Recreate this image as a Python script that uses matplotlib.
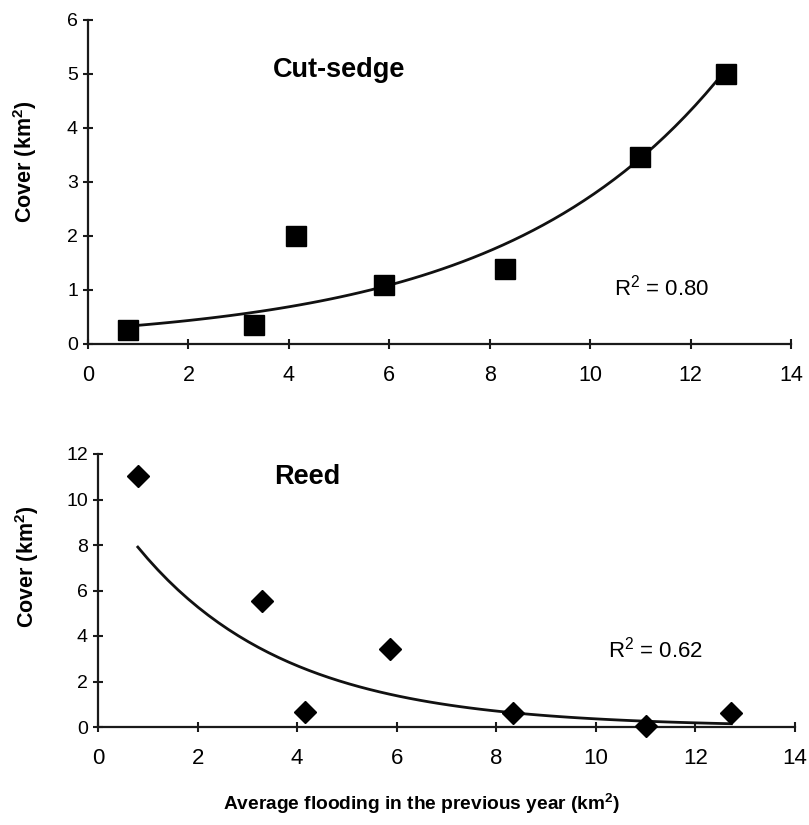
import numpy as np
import matplotlib.pyplot as plt

plt.rcParams['font.family'] = ['Liberation Sans', 'DejaVu Sans']
plt.rcParams['mathtext.default'] = 'regular'

# average flooding in the previous year (km2)
flooding = [0.8, 3.3, 4.15, 5.9, 8.3, 11.0, 12.7]
sedge_cover = [0.26, 0.35, 2.0, 1.09, 1.38, 3.47, 5.0]
reed_flooding = [0.8, 3.3, 4.15, 5.87, 8.33, 11.0, 12.72]
reed_cover = [11.05, 5.52, 0.68, 3.45, 0.63, 0.04, 0.63]
sedge_r2 = 0.80
reed_r2 = 0.62

W, H = 809, 825


def exp_trend(x, y):
    # exponential trendline y = a*exp(b*x), fitted in log space
    b, ln_a = np.polyfit(x, np.log(y), 1)
    xs = np.linspace(min(x), max(x), 60)
    return xs, np.exp(ln_a) * np.exp(b * xs)


def px_axes(fig, x0, x1, y_top, y_bot):
    # axes placed by pixel edges
    return fig.add_axes([x0 / W, 1 - y_bot / H, (x1 - x0) / W, (y_bot - y_top) / H])


def style_axes(ax, ymax, ystep, xsize, ysize):
    ax.patch.set_alpha(0)
    ax.spines['top'].set_visible(False)
    ax.spines['right'].set_visible(False)
    for side in ('left', 'bottom'):
        ax.spines[side].set_linewidth(1.6)
        ax.spines[side].set_color('#1a1a1a')
    ax.set_xlim(0, 14)
    ax.set_ylim(0, ymax)
    ax.set_xticks(range(0, 15, 2))
    ax.set_yticks(range(0, ymax + 1, ystep))
    ax.tick_params(direction='inout', length=7.5, width=1.5, color='#1a1a1a')
    ax.tick_params(axis='x', pad=11.5, labelsize=xsize)
    ax.tick_params(axis='y', pad=3.5, labelsize=ysize)


def ylabel(fig, xpx, ypx):
    fig.text(xpx / W, 1 - ypx / H, 'Cover (km$^{2}$)', rotation=90,
             fontsize=15.5, fontweight='bold', ha='center', va='center')


fig = plt.figure(figsize=(W / 100, H / 100), dpi=100)
ax1 = px_axes(fig, 88, 791, 20, 344)
ax2 = px_axes(fig, 98, 795, 454, 727)

# cut-sedge
style_axes(ax1, 6, 1, 15.5, 14)
xs, ys = exp_trend(flooding, sedge_cover)
ax1.plot(xs, ys, color='#111111', lw=2, zorder=2)
ax1.plot(flooding, sedge_cover, 's', color='black', ms=14.5, zorder=3,
         clip_on=False)
ax1.text(5.0, 5.07, 'Cut-sedge', fontsize=19.5, fontweight='bold',
         ha='center', va='center')
ax1.text(11.43, 1.05, f'R$^{{2}}$ = {sedge_r2:.2f}', fontsize=16,
         ha='center', va='center')
ylabel(fig, 25, 162)

# reed
style_axes(ax2, 12, 2, 16, 14)
xs, ys = exp_trend(reed_flooding, reed_cover)
ax2.plot(xs, ys, color='#111111', lw=2, zorder=2)
ax2.plot(reed_flooding, reed_cover, 'D', color='black', ms=11.5, zorder=3,
         clip_on=False)
ax2.text(4.2, 11.0, 'Reed', fontsize=19.5, fontweight='bold',
         ha='center', va='center')
ax2.text(11.2, 3.4, f'R$^{{2}}$ = {reed_r2:.2f}', fontsize=16,
         ha='center', va='center')
ylabel(fig, 27, 567)

fig.text(422 / W, 1 - 810 / H,
         'Average flooding in the previous year (km$^{2}$)',
         fontsize=13.8, fontweight='bold', ha='center', va='baseline')

fig.savefig('out.png', dpi=100)
